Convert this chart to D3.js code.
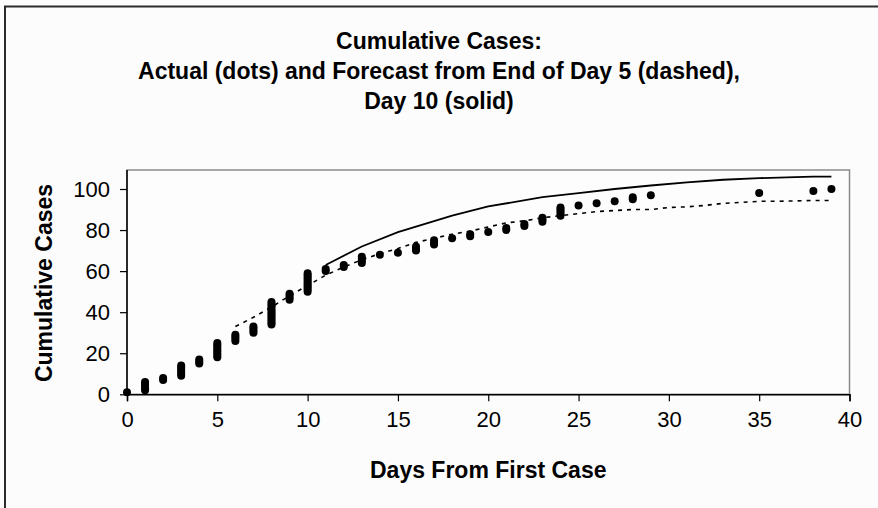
<!DOCTYPE html>
<html>
<head>
<meta charset="utf-8">
<script src="https://cdn.jsdelivr.net/npm/d3@7"></script>
<style>
  html, body { margin: 0; padding: 0; background: #fcfcfc; }
  svg { display: block; }
  text { font-family: "Liberation Sans", Arial, sans-serif; fill: #000; }
</style>
</head>
<body>
<svg id="chart" width="878" height="508"></svg>
<script>
// Actual cases: each case plotted at its onset day with its running total
const actualDays  = [0, 1,1,1,1,1, 2,2, 3,3,3,3,3,3, 4,4,4, 5,5,5,5,5,5,5,5, 6,6,6,6, 7,7,7,7,
  8,8,8,8,8,8,8,8,8,8,8,8, 9,9,9,9, 10,10,10,10,10,10,10,10,10,10, 11,11, 12,12, 13,13,13,13,
  14, 15, 16,16,16, 17,17,17, 18, 19,19, 20, 21,21, 22,22, 23,23,23, 24,24,24,24,24, 25, 26, 27,
  28,28, 29, 35, 38, 39];
const actualCases = [1, 2,3,4,5,6, 7,8, 9,10,11,12,13,14, 15,16,17, 18,19,20,21,22,23,24,25, 26,27,28,29, 30,31,32,33,
  34,35,36,37,38,39,40,41,42,43,44,45, 46,47,48,49, 50,51,52,53,54,55,56,57,58,59, 60,61, 62,63, 64,65,66,67,
  68, 69, 70,71,72, 73,74,75, 76, 77,78, 79, 80,81, 82,83, 84,85,86, 87,88,89,90,91, 92, 93, 94,
  95,96, 97, 98, 99, 100];

// Forecast made at the end of day 5 (dashed)
const day5Days  = [6, 7, 8, 9, 10, 11, 12, 13, 14, 15, 16, 17, 18, 19, 20, 21, 22, 23, 24, 25, 26, 27, 28, 29, 30, 31, 32, 33, 34, 35, 36, 37, 38, 39];
const day5Cases = [33, 37.5, 42.5, 48, 53, 58, 62, 65.5, 68.5, 71, 74, 76, 78, 79.5, 81.5, 83.5, 84.5, 86, 87, 88, 89, 89.5, 90, 90, 91, 91.3, 92, 93, 93.5, 94, 94, 94.2, 94.4, 94.4];

// Forecast made at the end of day 10 (solid)
const day10Days  = [11, 13, 15, 18, 20, 23, 25, 27, 29, 31, 33, 35, 37, 38, 39];
const day10Cases = [63, 72, 79, 87, 91.5, 96, 98, 100, 101.7, 103.2, 104.5, 105.3, 105.8, 106, 106];

const xTicks = [0, 5, 10, 15, 20, 25, 30, 35, 40];
const yTicks = [0, 20, 40, 60, 80, 100];

const titleLines = [
  "Cumulative Cases:",
  "Actual (dots) and Forecast from End of Day 5 (dashed),",
  "Day 10 (solid)"
];
const xTitle = "Days From First Case";
const yTitle = "Cumulative Cases";

const svg = d3.select("#chart");

// Plot area geometry
const plot = { left: 127, right: 849.5, top: 170, bottom: 394.3 };

const x = d3.scaleLinear().domain([0, 40]).range([plot.left, plot.right]);
const y = d3.scaleLinear().domain([0, 100]).range([plot.bottom, 189]);

// Outer chart frame (runs off the right and bottom edges)
svg.append("path")
  .attr("d", "M5,520V6.5H890")
  .attr("fill", "none")
  .attr("stroke", "#2b2b2b")
  .attr("stroke-width", 2);

// Title
svg.append("g").selectAll("text")
  .data(titleLines)
  .join("text")
  .attr("x", 439)
  .attr("y", (d, i) => 49 + i * 30)
  .attr("text-anchor", "middle")
  .style("font-size", "23px")
  .style("font-weight", "bold")
  .text(d => d);

// Plot area: grey border on top/right
svg.append("rect")
  .attr("x", plot.left).attr("y", plot.top)
  .attr("width", plot.right - plot.left).attr("height", plot.bottom - plot.top)
  .attr("fill", "#fdfdfd")
  .attr("stroke", "#8a8a8a")
  .attr("stroke-width", 1.5);

// Axes
const xAxis = d3.axisBottom(x).tickValues(xTicks).tickSize(7).tickPadding(10).tickFormat(d3.format("d"));
const yAxis = d3.axisLeft(y).tickValues(yTicks).tickSize(7).tickPadding(10).tickFormat(d3.format("d"));

const gx = svg.append("g").attr("transform", `translate(0,${plot.bottom})`).call(xAxis);
const gy = svg.append("g").attr("transform", `translate(${plot.left},0)`).call(yAxis);

gy.select(".domain").attr("d", `M0,${plot.bottom}V${plot.top}`);

[gx, gy].forEach(g => {
  g.select(".domain").attr("stroke", "#000").attr("stroke-width", 1.5);
  g.selectAll(".tick line").attr("stroke", "#000").attr("stroke-width", 1.2);
  g.selectAll(".tick text")
    .attr("fill", "#000")
    .style("font-family", "'Liberation Sans', Arial, sans-serif")
    .style("font-size", "22px");
});

// Axis titles
svg.append("text")
  .attr("x", (plot.left + plot.right) / 2)
  .attr("y", 478)
  .attr("text-anchor", "middle")
  .style("font-size", "23px")
  .style("font-weight", "bold")
  .text(xTitle);

svg.append("text")
  .attr("transform", "translate(52,283) rotate(-90)")
  .attr("text-anchor", "middle")
  .style("font-size", "23px")
  .style("font-weight", "bold")
  .text(yTitle);

const line = d3.line().x(d => x(d[0])).y(d => y(d[1]));

// Day 5 forecast (dashed)
svg.append("path")
  .datum(d3.zip(day5Days, day5Cases))
  .attr("d", line)
  .attr("fill", "none")
  .attr("stroke", "#000")
  .attr("stroke-width", 1.6)
  .attr("stroke-dasharray", "4,5");

// Day 10 forecast (solid)
svg.append("path")
  .datum(d3.zip(day10Days, day10Cases))
  .attr("d", line)
  .attr("fill", "none")
  .attr("stroke", "#000")
  .attr("stroke-width", 1.8);

// Actual cases (dots)
svg.append("g").selectAll("circle")
  .data(d3.zip(actualDays, actualCases))
  .join("circle")
  .attr("cx", d => x(d[0]))
  .attr("cy", d => y(d[1]))
  .attr("r", 4)
  .attr("fill", "#000");
</script>
</body>
</html>
